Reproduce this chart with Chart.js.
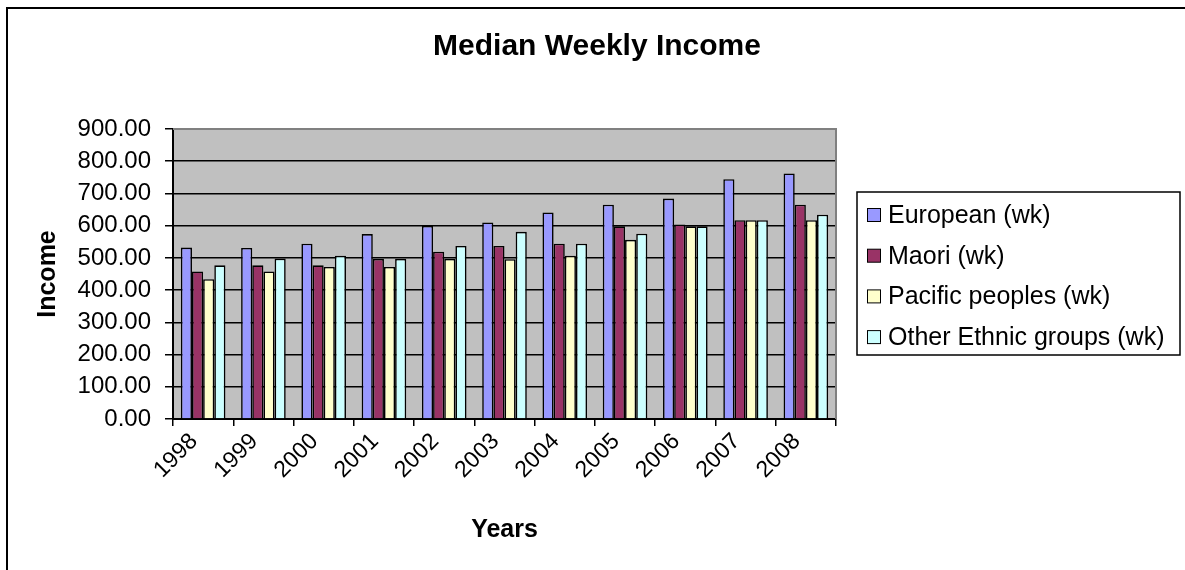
<!DOCTYPE html>
<html>
<head>
<meta charset="utf-8">
<title>Median Weekly Income</title>
<script src="https://cdn.jsdelivr.net/npm/chart.js@4/dist/chart.umd.min.js"></script>
<style>
  body { margin: 0; background: #fff; }
  #wrap { width: 1185px; height: 570px; }
</style>
</head>
<body>
<div id="wrap"><canvas id="income" width="1185" height="570"></canvas></div>
<script>
const years = ['1998', '1999', '2000', '2001', '2002', '2003', '2004', '2005', '2006', '2007', '2008'];

// median weekly income per ethnic group
const european    = [532, 531, 544, 574, 599, 610, 641, 665, 684, 744, 762];
const maori       = [458, 477, 477, 497, 519, 537, 544, 598, 604, 617, 665];
const pacific     = [434, 458, 472, 472, 497, 496, 507, 556, 598, 617, 617];
const otherEthnic = [477, 498, 507, 497, 537, 581, 544, 575, 598, 617, 634];

const seriesNames  = ['European (wk)', 'Maori (wk)', 'Pacific peoples (wk)', 'Other Ethnic groups (wk)'];
const seriesColors = ['#9999ff', '#993366', '#ffffcc', '#ccffff'];

const chartTitle = 'Median Weekly Income';
const FONT = '"Liberation Sans", Arial, Helvetica, sans-serif';

const datasets = [european, maori, pacific, otherEthnic].map((values, i) => ({
  label: seriesNames[i],
  data: values,
  backgroundColor: seriesColors[i],
  borderColor: '#000',
  borderWidth: 1.6,
  categoryPercentage: 0.74,
  barPercentage: 1.0
}));

// white page, outer frame, title and grey plot area
const backdrop = {
  id: 'backdrop',
  beforeDraw(chart) {
    const { ctx, chartArea: a } = chart;
    ctx.save();
    ctx.fillStyle = '#fff';
    ctx.fillRect(0, 0, chart.width, chart.height);
    ctx.strokeStyle = '#000';
    ctx.lineWidth = 2;
    ctx.beginPath();
    ctx.moveTo(7, chart.height);
    ctx.lineTo(7, 8);
    ctx.lineTo(chart.width, 8);
    ctx.stroke();

    ctx.fillStyle = '#000';
    ctx.font = 'bold 30px ' + FONT;
    ctx.textAlign = 'center';
    ctx.textBaseline = 'middle';
    ctx.fillText(chartTitle, 597, 47);

    ctx.fillStyle = '#c0c0c0';
    ctx.fillRect(a.left, a.top, a.right - a.left, a.bottom - a.top);
    ctx.restore();
  },
  beforeDatasetsDraw(chart) {
    const { ctx, chartArea: a } = chart;
    ctx.save();
    ctx.strokeStyle = '#808080';
    ctx.lineWidth = 2;
    ctx.beginPath();
    ctx.moveTo(a.left, a.top);
    ctx.lineTo(a.right, a.top);
    ctx.lineTo(a.right, a.bottom);
    ctx.stroke();
    ctx.restore();
  }
};

// boxed legend to the right of the plot
const boxLegend = {
  id: 'boxLegend',
  afterDraw(chart) {
    const { ctx } = chart;
    const x0 = 857, y0 = 192, w = 323, h = 163;
    const rowTop = 215, rowStep = 40.7;
    ctx.save();
    ctx.strokeStyle = '#000';
    ctx.lineWidth = 1.5;
    ctx.strokeRect(x0, y0, w, h);
    ctx.font = '25px ' + FONT;
    ctx.textBaseline = 'middle';
    ctx.textAlign = 'left';
    chart.data.datasets.forEach((ds, i) => {
      const y = rowTop + i * rowStep;
      ctx.fillStyle = ds.backgroundColor;
      ctx.fillRect(867, y - 6.5, 13, 13);
      ctx.lineWidth = 1;
      ctx.strokeRect(867.5, y - 6.5, 13, 13);
      ctx.fillStyle = '#000';
      ctx.fillText(ds.label, 888, y + 1);
    });
    ctx.restore();
  }
};

new Chart(document.getElementById('income'), {
  type: 'bar',
  data: { labels: years, datasets: datasets },
  plugins: [backdrop, boxLegend],
  options: {
    responsive: false,
    animation: false,
    layout: { padding: { left: 0, right: 349, top: 129, bottom: 0 } },
    plugins: {
      legend: { display: false },
      tooltip: { enabled: false },
      title: { display: false }
    },
    scales: {
      x: {
        offset: true,
        grid: { offset: true, drawOnChartArea: false, drawTicks: true, tickLength: 7, color: '#000', lineWidth: 1.5 },
        border: { color: '#000', width: 2 },
        ticks: {
          autoSkip: false, minRotation: 45, maxRotation: 45, labelOffset: -9, padding: 2,
          color: '#000', font: { family: FONT, size: 23 }
        },
        title: {
          display: true, text: 'Years', color: '#000',
          font: { family: FONT, size: 25, weight: 'bold' },
          padding: { top: 0, bottom: 25 }
        },
        afterFit(scale) { scale.height = 151; }
      },
      y: {
        min: 0,
        max: 900,
        grid: {
          color: (c) => (c.tick && c.tick.value === 900 ? '#808080' : '#000'),
          tickColor: '#000',
          lineWidth: 1.5,
          tickLength: 8
        },
        border: { color: '#000', width: 2 },
        ticks: {
          stepSize: 100,
          padding: 14,
          color: '#000',
          font: { family: FONT, size: 24 },
          callback: (v) => Number(v).toFixed(2)
        },
        title: {
          display: true, text: 'Income', color: '#000',
          font: { family: FONT, size: 25, weight: 'bold' },
          padding: { top: 33, bottom: 0 }
        },
        afterFit(scale) { scale.width = 173; }
      }
    }
  }
});
</script>
</body>
</html>
